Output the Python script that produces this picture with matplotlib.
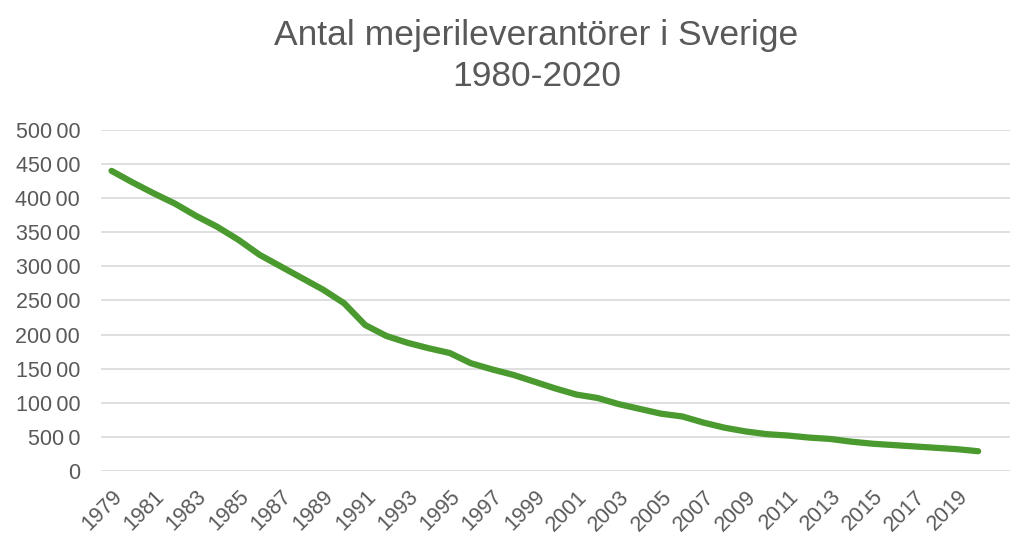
import matplotlib
matplotlib.use("Agg")
import matplotlib.pyplot as plt

# antal leverantörer per år
years = list(range(1979, 2021))
suppliers = [44000, 42300, 40700, 39200, 37400, 35800, 33900, 31700, 30000, 28300,
             26600, 24600, 21400, 19800, 18800, 18000, 17300, 15800, 14900, 14100,
             13100, 12100, 11200, 10700, 9800, 9100, 8400, 8000, 7100, 6350,
             5800, 5400, 5200, 4900, 4700, 4300, 4000, 3800, 3600, 3400,
             3200, 2900]

ytick_vals = [0, 5000, 10000, 15000, 20000, 25000, 30000, 35000, 40000, 45000, 50000]
ytick_labels = ["0", "500\u20090", "100\u200900", "150\u200900", "200\u200900", "250\u200900",
                "300\u200900", "350\u200900", "400\u200900", "450\u200900", "500\u200900"]
xtick_years = list(range(1979, 2021, 2))

plt.rcParams['font.family'] = ['Liberation Sans', 'DejaVu Sans']
grey = '#595959'

fig = plt.figure(figsize=(10.18, 5.37), dpi=100)
ax = fig.add_axes([0.0992, 0.1229, 0.8928, 0.6351])

ax.plot(years, suppliers, color='#4a9a2f', lw=4.5, solid_capstyle='round',
        solid_joinstyle='round')

ax.set_xlim(1978.5, 2021.5)
ax.set_ylim(0, 50000)
ax.set_yticks(ytick_vals)
ax.set_yticklabels(ytick_labels)
ax.set_xticks(xtick_years)
ax.set_xticklabels([str(y) for y in xtick_years], rotation=45, ha='right',
                   rotation_mode='anchor')
ax.tick_params(axis='y', length=0, pad=15, labelsize=15.5, labelcolor=grey)
ax.tick_params(axis='x', length=0, pad=11, labelsize=15.5, labelcolor=grey)
ax.grid(axis='y', color='#d9d9d9', lw=1.2)
ax.set_axisbelow(True)
for s in ax.spines.values():
    s.set_visible(False)

fig.text(0.527, 0.8957, "Antal mejerileverantörer i Sverige\n1980-2020",
         ha='center', va='center', fontsize=25.5, color=grey, linespacing=1.28)

fig.savefig("out.png", dpi=100)
